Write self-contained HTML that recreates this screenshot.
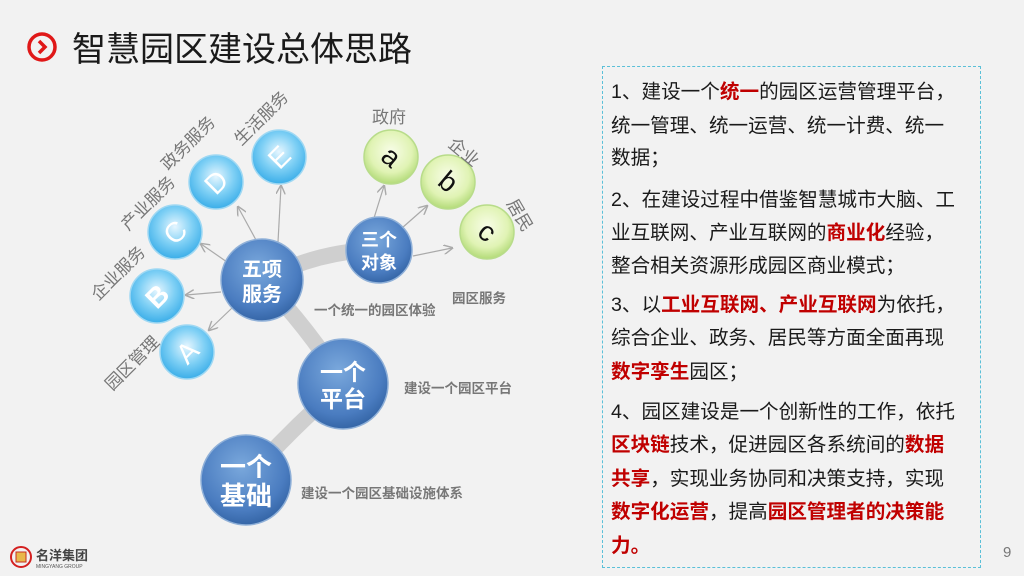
<!DOCTYPE html>
<html><head><meta charset="utf-8"><style>
body{margin:0;width:1024px;height:576px;background:#f2f2f2;overflow:hidden;position:relative;font-family:"Liberation Sans","Noto Sans CJK SC",sans-serif}
.t{position:absolute;left:26px;top:28px;font-size:34px;color:#1a1a1a;line-height:44px}
.box{position:absolute;left:602px;top:66px;width:377px;height:500px;border:1.5px dashed #5bc0d8}
.l{position:absolute;left:611px;font-size:19.6px;line-height:28px;height:28px;color:#1a1a1a;white-space:nowrap}
.r{color:#c00000;font-weight:bold}
</style></head><body>
<div class="t"><svg width="36" height="36" viewBox="0 0 36 36" style="vertical-align:-5px;margin-right:10px"><circle cx="16" cy="17" r="13" fill="none" stroke="#e01818" stroke-width="3.5"/><path d="M13 11 L19 17 L13 23" fill="none" stroke="#e01818" stroke-width="3.5"/></svg>智慧园区建设总体思路</div>
<svg width="600" height="576" style="position:absolute;left:0;top:0">
<defs>
<radialGradient id="bb" cx="0.45" cy="0.35" r="0.7"><stop offset="0" stop-color="#7aa8dc"/><stop offset="0.7" stop-color="#4a7cc0"/><stop offset="1" stop-color="#2f5f9f"/></radialGradient>
<radialGradient id="lb" cx="0.5" cy="0.4" r="0.65"><stop offset="0" stop-color="#e6f6ff"/><stop offset="0.5" stop-color="#7fd0f5"/><stop offset="1" stop-color="#2ea7e6"/></radialGradient>
<radialGradient id="gb" cx="0.5" cy="0.4" r="0.65"><stop offset="0" stop-color="#f8fde8"/><stop offset="0.6" stop-color="#e0f3b4"/><stop offset="1" stop-color="#a8d56a"/></radialGradient>
<marker id="ar" markerWidth="8" markerHeight="8" refX="7" refY="4" orient="auto"><path d="M0 0 L8 4 L0 8" fill="none" stroke="#aaa" stroke-width="1.2"/></marker>
</defs>
<g stroke="#cfcfcf" stroke-width="16" fill="none" stroke-linecap="round">
<path d="M262 280 Q320 250 379 250"/><path d="M262 280 Q310 330 343 384"/><path d="M343 384 Q290 430 246 480"/>
</g>
<g stroke="#aaa" stroke-width="1.2" marker-end="url(#ar)">
<line x1="256" y1="240" x2="238" y2="207"/><line x1="278" y1="242" x2="281" y2="186"/>
<line x1="227" y1="262" x2="201" y2="244"/><line x1="221" y1="292" x2="186" y2="295"/><line x1="232" y1="308" x2="209" y2="330"/>
<line x1="374" y1="218" x2="384" y2="186"/><line x1="402" y1="228" x2="427" y2="206"/><line x1="413" y1="256" x2="452" y2="248"/>
</g>
<g stroke="#8fb0d8" stroke-width="1.5">
<circle cx="262" cy="280" r="41" fill="url(#bb)"/><circle cx="379" cy="250" r="33" fill="url(#bb)"/>
<circle cx="343" cy="384" r="45" fill="url(#bb)"/><circle cx="246" cy="480" r="45" fill="url(#bb)"/>
</g>
<g stroke="#9fd8f3" stroke-width="1.5" fill="url(#lb)">
<circle cx="187" cy="352" r="27"/><circle cx="157" cy="296" r="27"/><circle cx="175" cy="232" r="27"/><circle cx="216" cy="182" r="27"/><circle cx="279" cy="157" r="27"/>
</g>
<g stroke="#b8dc8a" stroke-width="1.5" fill="url(#gb)">
<circle cx="391" cy="157" r="27"/><circle cx="448" cy="182" r="27"/><circle cx="487" cy="232" r="27"/>
</g>
<g fill="#fff" font-size="28" text-anchor="middle" font-family="Liberation Sans,sans-serif">
<text transform="translate(187,352) rotate(-45)" y="10">A</text><text transform="translate(157,296) rotate(-45)" y="10" font-weight="bold">B</text>
<text transform="translate(175,232) rotate(-45)" y="10">C</text><text transform="translate(216,182) rotate(-45)" y="10">D</text><text transform="translate(279,157) rotate(-45)" y="10">E</text>
</g>
<g fill="#111" font-size="28" text-anchor="middle" font-family="Liberation Sans,sans-serif">
<text transform="translate(391,157) rotate(40)" y="9">a</text><text transform="translate(448,182) rotate(40)" y="9">b</text><text transform="translate(487,232) rotate(40)" y="9">c</text>
</g>
<g fill="#fff" font-weight="bold" text-anchor="middle">
<text x="262" y="276" font-size="20">五项</text><text x="262" y="301" font-size="20">服务</text>
<text x="379" y="246" font-size="18">三个</text><text x="379" y="269" font-size="18">对象</text>
<text x="343" y="380" font-size="23">一个</text><text x="343" y="407" font-size="23">平台</text>
<text x="246" y="476" font-size="26">一个</text><text x="246" y="505" font-size="26">基础</text>
</g>
<g fill="#777" font-size="17" text-anchor="middle">
<text transform="translate(132,363) rotate(-45)" y="6">园区管理</text>
<text transform="translate(118,273) rotate(-45)" y="6">企业服务</text>
<text transform="translate(148,203) rotate(-45)" y="6">产业服务</text>
<text transform="translate(188,143) rotate(-45)" y="6">政务服务</text>
<text transform="translate(261,118) rotate(-45)" y="6">生活服务</text>
<text x="389" y="123">政府</text>
<text transform="translate(464,152) rotate(40)" y="6">企业</text>
<text transform="translate(520,215) rotate(60)" y="6">居民</text>
</g>
<g fill="#777" font-size="13.5" font-weight="bold">
<text x="314" y="315">一个统一的园区体验</text><text x="452" y="303">园区服务</text>
<text x="404" y="393">建设一个园区平台</text><text x="301" y="498">建设一个园区基础设施体系</text>
</g>
<circle cx="21" cy="557" r="10" fill="none" stroke="#d42020" stroke-width="2"/><rect x="16" y="552" width="10" height="10" fill="#e8b84a" stroke="#c83020"/>
<text x="36" y="560" font-size="13" font-weight="bold" fill="#444">名洋集团</text>
<text x="36" y="568" font-size="5" fill="#555">MINGYANG GROUP</text>
</svg>
<div class="box"></div>
<div class="l" style="top:78px">1、建设一个<span class="r">统一</span>的园区运营管理平台，</div>
<div class="l" style="top:112px">统一管理、统一运营、统一计费、统一</div>
<div class="l" style="top:144px">数据；</div>
<div class="l" style="top:186px">2、在建设过程中借鉴智慧城市大脑、工</div>
<div class="l" style="top:219px">业互联网、产业互联网的<span class="r">商业化</span>经验，</div>
<div class="l" style="top:252px">整合相关资源形成园区商业模式；</div>
<div class="l" style="top:291px">3、以<span class="r">工业互联网、产业互联网</span>为依托，</div>
<div class="l" style="top:324px">综合企业、政务、居民等方面全面再现</div>
<div class="l" style="top:358px"><span class="r">数字孪生</span>园区；</div>
<div class="l" style="top:398px">4、园区建设是一个创新性的工作，依托</div>
<div class="l" style="top:431px"><span class="r">区块链</span>技术，促进园区各系统间的<span class="r">数据</span></div>
<div class="l" style="top:465px"><span class="r">共享</span>，实现业务协同和决策支持，实现</div>
<div class="l" style="top:498px"><span class="r">数字化运营</span>，提高<span class="r">园区管理者的决策能</span></div>
<div class="l" style="top:532px"><span class="r">力。</span></div>
<div style="position:absolute;left:1003px;top:544px;font-size:15px;color:#777">9</div>
</body></html>
